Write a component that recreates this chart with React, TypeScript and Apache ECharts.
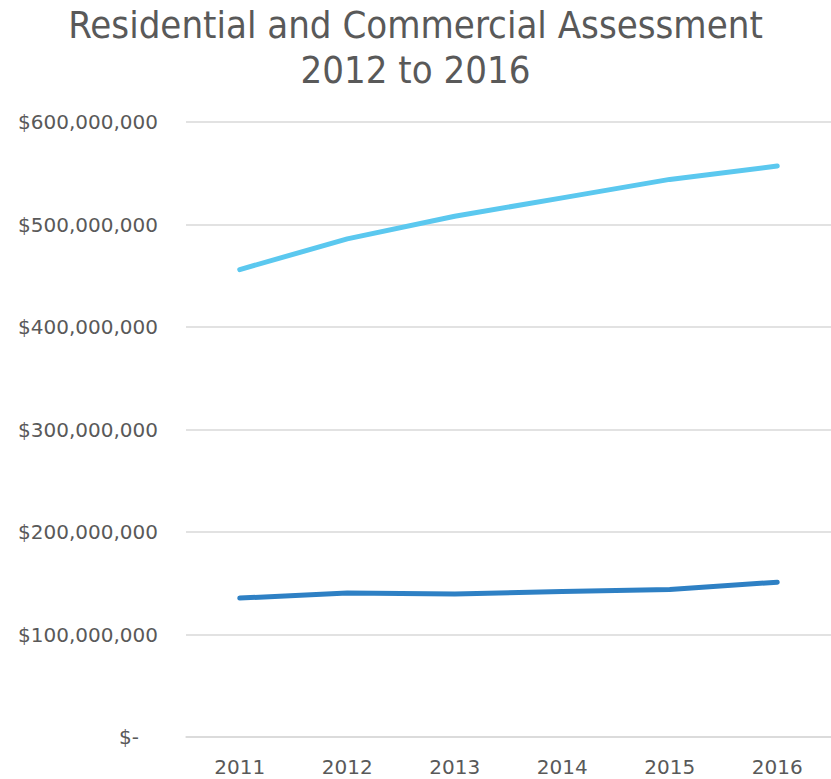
import React, { useEffect, useRef } from "react";
import * as echarts from "echarts";

const years = ["2011", "2012", "2013", "2014", "2015", "2016"];
const residential = [456000000, 486000000, 508000000, 526000000, 544000000, 557000000];
const commercial = [135500000, 140500000, 139500000, 142000000, 144000000, 151000000];
const titleLines = ["Residential and Commercial Assessment", "2012 to 2016"];

export default function App() {
  const ref = useRef<HTMLDivElement>(null);
  useEffect(() => {
    const chart = echarts.init(ref.current!, null, { renderer: "svg" });
    const labelFont = "DejaVu Sans";
    chart.setOption({
      animation: false,
      backgroundColor: "#ffffff",
      title: {
        text: titleLines.join("\n"),
        left: "center",
        top: -3,
        padding: 5,
        textStyle: {
          fontFamily: "Liberation Sans Narrow, DejaVu Sans Condensed, sans-serif",
          fontSize: 38,
          fontWeight: "normal",
          color: "#595959",
          lineHeight: 45,
        },
      },
      grid: { left: 186, right: -9, top: 122, bottom: 42, containLabel: false },
      xAxis: {
        type: "category",
        data: years,
        boundaryGap: true,
        axisLine: { show: true, lineStyle: { color: "#d9d9d9", width: 1.5 } },
        axisTick: { show: false },
        axisLabel: { color: "#595959", fontFamily: labelFont, fontSize: 20, margin: 20 },
      },
      yAxis: {
        type: "value",
        min: 0,
        max: 600000000,
        interval: 100000000,
        axisLine: { show: false },
        axisTick: { show: false },
        splitLine: { lineStyle: { color: "#d9d9d9", width: 1.5 } },
        axisLabel: {
          color: "#595959",
          fontFamily: labelFont,
          fontSize: 20,
          margin: 28,
          formatter: (v: number) => (v === 0 ? "$-   " : "$" + v.toLocaleString("en-US")),
        },
      },
      series: [
        {
          name: "Residential",
          type: "line",
          data: residential,
          symbol: "none",
          lineStyle: { color: "#5BC8EF", width: 5, cap: "round", join: "round" },
        },
        {
          name: "Commercial",
          type: "line",
          data: commercial,
          symbol: "none",
          lineStyle: { color: "#2E80C4", width: 5, cap: "round", join: "round" },
        },
      ],
    });
    return () => chart.dispose();
  }, []);
  return (
    <div
      ref={ref}
      style={{ position: "fixed", left: 0, top: 0, width: 831, height: 779 }}
    />
  );
}
